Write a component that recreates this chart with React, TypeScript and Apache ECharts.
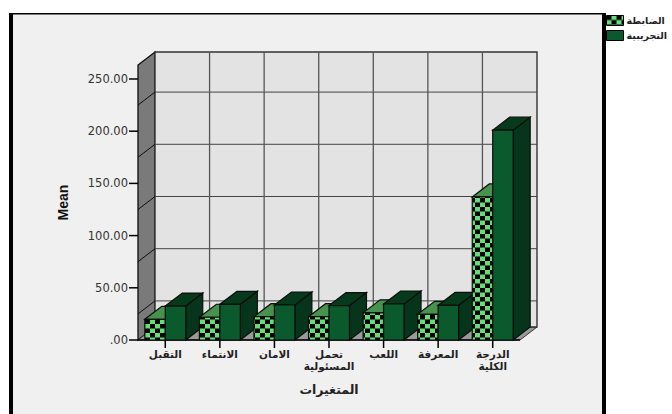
import React, { useEffect, useRef } from "react";
import * as echarts from "echarts";

// Group means per scale
const categories = ["التقبل", "الانتماء", "الامان", "تحمل\nالمسئولية", "اللعب", "المعرفة", "الدرجة\nالكلية"];
const controlValues = [19.8, 21.8, 22.3, 22.3, 26, 24.6, 137];
const experimentalValues = [32.5, 34.2, 33.5, 33, 34.5, 33.2, 201];
const controlName = "الضابطة";
const experimentalName = "التجريبية";
const axisTicks = [0, 50, 100, 150, 200, 250];
const wallLines = [25, 75, 125, 175, 225];
const axisMax = 263.4;

// Oblique projection of the third dimension
const DX = 17;
const DY = -13;
const BAR_SHARE = 0.375;
const LINE = "#0a0f0b";
const Y_TICK = 9;
const X_TICK = 8;

const checkerPattern = () => {
  const c = document.createElement("canvas");
  c.width = 10;
  c.height = 9;
  const g = c.getContext("2d")!;
  g.fillStyle = "#66dd77";
  g.fillRect(0, 0, 10, 9);
  g.fillStyle = "#000";
  g.fillRect(0, 0, 5, 4.5);
  g.fillRect(5, 4.5, 5, 4.5);
  return { image: c, repeat: "repeat" };
};

const poly = (points: number[][], fill: any, z2: number, stroke = LINE, lineWidth = 1.2) => ({
  type: "polygon",
  z2,
  shape: { points },
  style: { fill, stroke, lineWidth },
});

const seg = (a: number[], b: number[], stroke: string, lineWidth: number, z2: number) => ({
  type: "line",
  z2,
  shape: { x1: a[0], y1: a[1], x2: b[0], y2: b[1] },
  style: { stroke, lineWidth, fill: "none" },
});

const shift = (p: number[]) => [p[0] + DX, p[1] + DY];

// Box: back faces, then the front; side = -1 sits left of the band centre, +1 right of it
const barRenderer =
  (side: number, front: any, top: string, right: string, order: number) => (params: any, api: any) => {
    const i = api.value(0);
    const v = api.value(1);
    const band = api.size([1, 0])[0];
    const w = band * BAR_SHARE;
    const c = api.coord([i, v]);
    const b = api.coord([i, 0]);
    const x0 = side < 0 ? c[0] - w : c[0];
    const x1 = x0 + w;
    const z2 = 10 + i * 2 + order;
    const tl = [x0, c[1]];
    const tr = [x1, c[1]];
    const bl = [x0, b[1]];
    const br = [x1, b[1]];
    return {
      type: "group",
      children: [
        poly([tr, shift(tr), shift(br), br], right, z2),
        poly([tl, shift(tl), shift(tr), tr], top, z2),
        poly([tl, tr, br, bl], front, z2),
      ],
    };
  };

// Side wall, floor and back wall with their grid lines, plus the axis tick marks
const wallsRenderer = (params: any, api: any) => {
  const n = categories.length;
  const x0 = api.coord([0, 0])[0] - api.size([1, 0])[0] / 2;
  const band = api.size([1, 0])[0];
  const x1 = x0 + band * n;
  const y0 = api.coord([0, 0])[1];
  const yTop = api.coord([0, axisMax])[1];
  const children: any[] = [
    poly([[x0, y0], shift([x0, y0]), shift([x0, yTop]), [x0, yTop]], "#7a7a7a", 1, LINE, 1.3),
    poly([[x0, y0], [x1, y0], shift([x1, y0]), shift([x0, y0])], "#9a9a9a", 1, "#333", 1),
    poly([shift([x0, y0]), shift([x1, y0]), shift([x1, yTop]), shift([x0, yTop])], "#e3e3e3", 1, "#333", 1.4),
  ];
  wallLines.forEach((v) => {
    const y = api.coord([0, v])[1];
    children.push(seg([x0, y], shift([x0, y]), LINE, 1, 2));
    children.push(seg(shift([x0, y]), shift([x1, y]), "#444", 1, 2));
  });
  for (let k = 1; k < n; k++) {
    const x = x0 + band * k;
    children.push(seg(shift([x, y0]), shift([x, yTop]), "#555", 1.3, 2));
  }
  axisTicks.forEach((v) => {
    const y = api.coord([0, v])[1];
    children.push(seg([x0 - Y_TICK, y], [x0, y], "#000", 1.5, 3));
  });
  children.push(seg([x0, y0], [x1, y0], "#000", 1.3, 3));
  categories.forEach((_, i) => {
    const x = api.coord([i, 0])[0];
    children.push(seg([x, y0], [x, y0 + X_TICK], "#000", 1.5, 3));
  });
  return { type: "group", children };
};

export default function App() {
  const ref = useRef<HTMLDivElement>(null);

  useEffect(() => {
    const chart = echarts.init(ref.current!, null, { renderer: "svg" });
    const checker = checkerPattern();
    chart.setOption({
      animation: false,
      backgroundColor: "#ffffff",
      // Panel and heavy frame
      graphic: {
        elements: [
          { type: "rect", shape: { x: 13, y: 14, width: 589, height: 400 }, style: { fill: "#f0f0f0" } },
          { type: "rect", shape: { x: 9, y: 13, width: 4, height: 401 }, style: { fill: "#000" } },
          { type: "rect", shape: { x: 9, y: 13, width: 597, height: 1.5 }, style: { fill: "#000" } },
          { type: "rect", shape: { x: 602, y: 13, width: 4, height: 401 }, style: { fill: "#000" } },
        ],
      },
      grid: { left: 138, top: 65, width: 382, height: 275 },
      legend: {
        orient: "vertical",
        left: 606,
        top: 15,
        padding: 0,
        itemWidth: 17,
        itemHeight: 10,
        itemGap: 4,
        icon: "rect",
        selectedMode: false,
        textStyle: { fontFamily: "DejaVu Sans", fontSize: 9.5, fontWeight: "bold", color: "#222", padding: [0, 0, 0, -2] },
        data: [
          { name: controlName, itemStyle: { color: checker, borderColor: "#000", borderWidth: 1 } },
          { name: experimentalName, itemStyle: { color: "#0b5a2d", borderColor: "#000", borderWidth: 1 } },
        ],
      },
      xAxis: {
        type: "category",
        data: categories,
        name: "المتغيرات",
        nameLocation: "middle",
        nameGap: 43,
        nameTextStyle: { fontFamily: "DejaVu Sans", fontSize: 12.5, fontWeight: "bold", color: "#222" },
        axisLine: { show: false },
        axisTick: { show: false },
        axisLabel: {
          interval: 0,
          margin: 8,
          lineHeight: 12,
          fontFamily: "DejaVu Sans",
          fontSize: 10.5,
          fontWeight: "bold",
          color: "#222",
        },
      },
      yAxis: {
        type: "value",
        min: 0,
        max: axisMax,
        interval: 50,
        name: "Mean",
        nameLocation: "middle",
        nameGap: 68,
        nameRotate: 90,
        nameTextStyle: { fontFamily: "Liberation Sans", fontSize: 14, fontWeight: "bold", color: "#111" },
        splitLine: { show: false },
        axisLine: { show: false },
        axisTick: { show: false },
        axisLabel: {
          margin: 10,
          customValues: axisTicks,
          fontFamily: "DejaVu Sans",
          fontSize: 11.5,
          color: "#333",
          formatter: (v: number) => (v === 0 ? ".00" : v.toFixed(2)),
        },
      },
      series: [
        {
          type: "custom",
          name: "walls",
          z: 1,
          silent: true,
          clip: false,
          data: [[0, 0]],
          renderItem: wallsRenderer,
        },
        {
          type: "custom",
          name: controlName,
          z: 2,
          silent: true,
          clip: false,
          data: categories.map((_, i) => [i, controlValues[i]]),
          encode: { x: 0, y: 1 },
          renderItem: barRenderer(-1, checker, "#47924f", "#1f5f33", 0),
        },
        {
          type: "custom",
          name: experimentalName,
          z: 2,
          silent: true,
          clip: false,
          data: categories.map((_, i) => [i, experimentalValues[i]]),
          encode: { x: 0, y: 1 },
          renderItem: barRenderer(1, "#0b5a2d", "#07391c", "#07351b", 1),
        },
      ],
    });
    return () => chart.dispose();
  }, []);

  return <div ref={ref} style={{ position: "fixed", left: 0, top: 0, width: 672, height: 414 }} />;
}
